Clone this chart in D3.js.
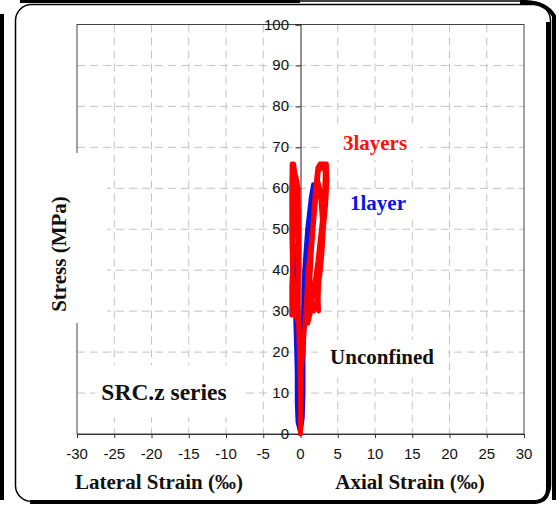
<!DOCTYPE html>
<html>
<head>
<meta charset="utf-8">
<script src="https://cdn.jsdelivr.net/npm/d3@7"></script>
<style>
  body { margin: 0; background: #fff; }
  svg { display: block; }
</style>
</head>
<body>
<svg></svg>
<script>
// stress-strain data (strain in per mille, stress in MPa)
const xTicks = [-30, -25, -20, -15, -10, -5, 0, 5, 10, 15, 20, 25, 30];
const yTicks = [0, 10, 20, 30, 40, 50, 60, 70, 80, 90, 100];

const oneLayerLateralStrain = [0, -0.4, -0.5, -0.5, -0.6, -0.7, -0.75, -0.75, -0.7, -0.65, -0.6, -0.5, -0.4, -0.3, -0.2];
const oneLayerLateralStress = [0, 3, 8, 15, 22, 28, 35, 42, 46, 38, 30, 24, 18, 12, 5];
const oneLayerAxialStrain = [0, 0.3, 0.4, 0.3, 0.3, 0.4, 0.5, 0.9, 1.4, 1.6, 1.7, 1.5, 1.2, 0.8, 0.6, 0.5, 0.4, 0.4, 0.2];
const oneLayerAxialStress = [0, 4, 10, 18, 25, 32, 40, 50, 58, 60, 61, 56, 50, 42, 34, 25, 18, 10, 3];

const threeLayersLateralStrain = [0, 0, -0.1, -0.2, -0.3, -0.9, -1.1, -1.2, -1.2, -1.15, -0.9, -0.6, -0.4, -0.3, -0.4, -0.7, -1.1, -1.2, -1.2, -1.0, -0.8, -0.6, -0.3, -0.2, -0.25, -0.3, -0.2, -0.1, 0, 0];
const threeLayersLateralStress = [0, 8, 15, 22, 27, 30, 40, 50, 60, 66, 66, 62, 55, 45, 38, 33, 30, 29, 36, 45, 55, 63, 60, 50, 40, 32, 25, 18, 12, 5];
const threeLayersAxialStrain = [0, 0, 0.1, 0.4, 0.7, 1.0, 1.6, 2.0, 2.3, 2.6, 3.0, 3.5, 3.6, 3.4, 3.1, 2.9, 2.7, 2.4, 2.2, 1.8, 1.5, 1.3, 1.5, 1.8, 2.1, 2.4, 2.9, 3.3, 3.2, 2.9, 2.6, 2.3, 2.0, 1.7, 1.4, 1.0, 0.9, 1.1, 1.3, 1.7, 2.0, 2.3, 2.6, 2.8, 3.0, 2.5, 2.4, 2.45];
const threeLayersAxialStress = [0, 8, 15, 22, 30, 40, 50, 60, 65, 66, 66, 66, 62, 56, 50, 44, 40, 36, 32, 30, 33, 38, 45, 52, 58, 64, 66, 64, 58, 52, 47, 42, 38, 34, 30, 27, 30, 36, 42, 50, 58, 62, 60, 55, 50, 38, 33, 30];

const W = 557, H = 507;
const svg = d3.select("svg").attr("width", W).attr("height", H);

const x = d3.scaleLinear().domain([-30, 30]).range([77, 524]);
const y = d3.scaleLinear().domain([0, 100]).range([434, 24.5]);

// frame around the panel
svg.append("rect")
  .attr("x", 15.5).attr("y", 4.5).attr("width", 535).attr("height", 497)
  .attr("rx", 16).attr("fill", "#fff").attr("stroke", "#000").attr("stroke-width", 1.5);
svg.append("path")
  .attr("d", "M548,22 L548,488 Q548,501 535,502 L30,502")
  .attr("fill", "none").attr("stroke", "#000").attr("stroke-width", 4);
svg.append("path")
  .attr("d", "M2,14 L2,500")
  .attr("fill", "none").attr("stroke", "#000").attr("stroke-width", 4);
svg.append("path")
  .attr("d", "M20,1.5 L300,1.5")
  .attr("fill", "none").attr("stroke", "#000").attr("stroke-width", 3);
svg.append("path")
  .attr("d", "M300,1 L522,1")
  .attr("fill", "none").attr("stroke", "#000").attr("stroke-width", 1.5);
svg.append("path")
  .attr("d", "M520,2 Q545,1 554,16 L554,500")
  .attr("fill", "none").attr("stroke", "#000").attr("stroke-width", 4);

const plot = svg.append("g");

// grid
plot.selectAll("line.vgrid")
  .data(xTicks.filter(d => d !== 0 && Math.abs(d) !== 30))
  .enter().append("line")
  .attr("x1", d => x(d)).attr("x2", d => x(d))
  .attr("y1", y(100)).attr("y2", y(0))
  .attr("stroke", "#c4c4c4").attr("stroke-dasharray", "8,5");
plot.selectAll("line.hgrid")
  .data(yTicks.filter(d => d > 0 && d < 100))
  .enter().append("line")
  .attr("x1", x(-30)).attr("x2", x(30))
  .attr("y1", d => y(d)).attr("y2", d => y(d))
  .attr("stroke", "#c4c4c4").attr("stroke-dasharray", "8,5");

// plot frame
plot.append("rect")
  .attr("x", x(-30)).attr("y", y(100))
  .attr("width", x(30) - x(-30)).attr("height", y(0) - y(100))
  .attr("fill", "none").attr("stroke", "#444").attr("stroke-width", 1);

// axes through the origin
const xAxis = d3.axisBottom(x).tickValues(xTicks).tickSize(4).tickFormat("");
plot.append("g").attr("transform", `translate(0,${y(0)})`).call(xAxis)
  .call(g => g.selectAll("line, path").attr("stroke", "#333"));
const yAxis = d3.axisLeft(y).tickValues(yTicks).tickSize(5).tickFormat("");
plot.append("g").attr("transform", `translate(${x(0)},0)`).call(yAxis)
  .call(g => g.selectAll("line, path").attr("stroke", "#222"));

// white label boxes hiding the grid
const boxes = [
  [40, 153, 67, 170],
  [320, 127, 100, 33],
  [330, 190, 90, 28],
  [318, 340, 130, 38],
  [95, 365, 150, 52]
];
svg.selectAll("rect.box").data(boxes).enter().append("rect")
  .attr("x", d => d[0]).attr("y", d => d[1])
  .attr("width", d => d[2]).attr("height", d => d[3])
  .attr("fill", "#fff");

// tick labels
svg.selectAll("text.xt").data(xTicks).enter().append("text")
  .attr("x", d => x(d)).attr("y", 459)
  .attr("text-anchor", "middle")
  .attr("font-family", "Liberation Sans, Arial, sans-serif").attr("font-size", 15)
  .attr("fill", "#111").text(d => d);
svg.selectAll("text.yt").data(yTicks).enter().append("text")
  .attr("x", 289).attr("y", d => y(d) + 5)
  .attr("text-anchor", "end")
  .attr("font-family", "Liberation Sans, Arial, sans-serif").attr("font-size", 15)
  .attr("fill", "#111").text(d => d);

// curves
const line = d3.line().x(d => x(d[0])).y(d => y(d[1]));
const series = [
  { color: "#0a14e8", width: 4, strain: oneLayerLateralStrain, stress: oneLayerLateralStress },
  { color: "#0a14e8", width: 4, strain: oneLayerAxialStrain, stress: oneLayerAxialStress },
  { color: "#ff0000", width: 4.5, strain: threeLayersLateralStrain, stress: threeLayersLateralStress },
  { color: "#ff0000", width: 4.5, strain: threeLayersAxialStrain, stress: threeLayersAxialStress }
];
series.forEach(s => {
  svg.append("path")
    .datum(d3.zip(s.strain, s.stress))
    .attr("d", line)
    .attr("fill", "none")
    .attr("stroke", s.color)
    .attr("stroke-width", s.width)
    .attr("stroke-linejoin", "round")
    .attr("stroke-linecap", "round");
});

// text labels
const serif = "Liberation Serif, Times New Roman, serif";
const labels = [
  { t: "3layers", x: 375, y: 150, c: "#ff1010", s: 21 },
  { t: "1layer", x: 378, y: 210, c: "#0a14e8", s: 21 },
  { t: "Unconfined", x: 382, y: 364, c: "#111", s: 21 },
  { t: "SRC.z series", x: 164, y: 400, c: "#111", s: 23.5 },
  { t: "Lateral Strain (‰)", x: 159, y: 489, c: "#111", s: 21 },
  { t: "Axial Strain (‰)", x: 410, y: 489, c: "#111", s: 21 }
];
svg.selectAll("text.lab").data(labels).enter().append("text")
  .attr("x", d => d.x).attr("y", d => d.y)
  .attr("text-anchor", "middle")
  .attr("font-family", serif).attr("font-weight", "bold")
  .attr("font-size", d => d.s).attr("fill", d => d.c)
  .text(d => d.t);

svg.append("text")
  .attr("transform", "translate(66,254) rotate(-90)")
  .attr("text-anchor", "middle")
  .attr("font-family", serif).attr("font-weight", "bold")
  .attr("font-size", 21).attr("fill", "#111")
  .text("Stress (MPa)");
</script>
</body>
</html>
